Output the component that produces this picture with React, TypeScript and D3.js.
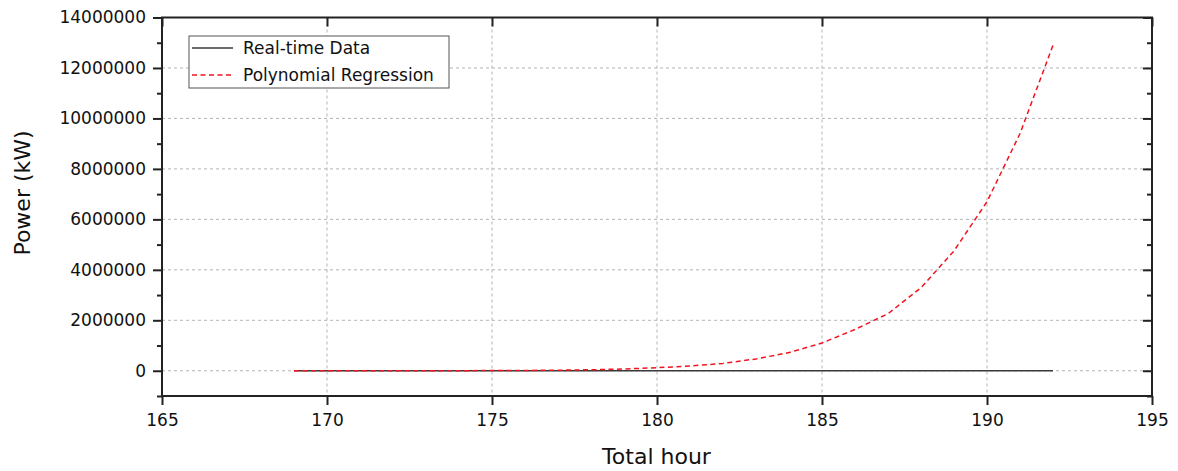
import React, { useEffect, useRef } from "react";
import * as d3 from "d3";

// hours on the x axis
const hours = [169, 170, 171, 172, 173, 174, 175, 176, 177, 178, 179, 180,
  181, 182, 183, 184, 185, 186, 187, 188, 189, 190, 191, 192];

// measured power (kW), hugs zero at this scale
const realTime = [3100, 3400, 2900, 3600, 3300, 3800, 3500, 4100, 3700, 3900, 4300, 4000,
  3600, 4200, 4500, 4100, 3900, 4400, 4700, 4300, 4100, 4600, 4800, 4500];

// polynomial fit (kW)
const polyFit = [0, 0, 0, 0, 2000, 4000, 7000, 12000, 22000, 40000, 70000, 120000,
  190000, 290000, 470000, 720000, 1100000, 1640000, 2260000, 3290000, 4750000, 6700000, 9400000, 12900000];

const xTicks = [165, 170, 175, 180, 185, 190, 195];
const yTicks = [0, 2000000, 4000000, 6000000, 8000000, 10000000, 12000000, 14000000];
const yMinor = [-1000000, 1000000, 3000000, 5000000, 7000000, 9000000, 11000000, 13000000];

const legendLabels = ["Real-time Data", "Polynomial Regression"];

const W = 1178;
const H = 471;
const FONT = "DejaVu Sans, Arial, sans-serif";

export default function App() {
  const svgRef = useRef<SVGSVGElement>(null);

  useEffect(() => {
    const svg = d3.select(svgRef.current);
    svg.selectAll("*").remove();

    const left = 162, right = 1152, top = 17.5, bottom = 396;

    const x = d3.scaleLinear().domain([165, 195]).range([left, right]);
    const y = d3.scaleLinear().domain([-1000000, 14000000]).range([bottom, top]);

    // grid
    const grid = svg.append("g");
    grid.selectAll("line.gx")
      .data(xTicks.slice(1, -1))
      .enter()
      .append("line")
      .attr("x1", d => x(d)).attr("x2", d => x(d))
      .attr("y1", top).attr("y2", bottom)
      .style("stroke", "#b4b4b4")
      .style("stroke-width", 1)
      .style("stroke-dasharray", "3,3");
    grid.selectAll("line.gy")
      .data(yTicks)
      .enter()
      .append("line")
      .attr("x1", left).attr("x2", right)
      .attr("y1", d => y(d)).attr("y2", d => y(d))
      .style("stroke", "#b4b4b4")
      .style("stroke-width", 1)
      .style("stroke-dasharray", "3,3");

    // lines
    const line = d3.line<number>()
      .x((d, i) => x(hours[i]))
      .y(d => y(d));

    svg.append("path")
      .datum(realTime)
      .attr("d", line)
      .style("fill", "none")
      .style("stroke", "#3a3a3a")
      .style("stroke-width", 1.5);

    svg.append("path")
      .datum(polyFit)
      .attr("d", line)
      .style("fill", "none")
      .style("stroke", "#f0141e")
      .style("stroke-width", 1.5)
      .style("stroke-dasharray", "5,3.5");

    // axes
    const styleAxis = (g: any) => {
      g.select(".domain").remove();
      g.selectAll("line").style("stroke", "#222").style("stroke-width", 2);
      g.selectAll("text")
        .style("font-family", FONT)
        .style("font-size", "17px")
        .style("fill", "#111");
    };

    svg.append("g")
      .attr("transform", `translate(${left},0)`)
      .call(d3.axisLeft(y).tickValues(yTicks).tickSize(9).tickPadding(7).tickFormat(d3.format("d")))
      .call(styleAxis);
    svg.append("g")
      .attr("transform", `translate(${left},0)`)
      .call(d3.axisLeft(y).tickValues(yMinor).tickSize(5).tickFormat(() => ""))
      .call(styleAxis);

    svg.append("g")
      .attr("transform", `translate(${right},0)`)
      .call(d3.axisLeft(y).tickValues(yTicks).tickSize(9).tickFormat(() => ""))
      .call(styleAxis);
    svg.append("g")
      .attr("transform", `translate(${right},0)`)
      .call(d3.axisLeft(y).tickValues(yMinor).tickSize(5).tickFormat(() => ""))
      .call(styleAxis);

    svg.append("g")
      .attr("transform", `translate(0,${bottom})`)
      .call(d3.axisBottom(x).tickValues(xTicks).tickSize(9).tickPadding(9).tickFormat(d3.format("d")))
      .call(styleAxis);
    svg.append("g")
      .attr("transform", `translate(0,${top})`)
      .call(d3.axisBottom(x).tickValues(xTicks).tickSize(9).tickFormat(() => ""))
      .call(styleAxis);

    // frame
    svg.append("rect")
      .attr("x", left).attr("y", top)
      .attr("width", right - left).attr("height", bottom - top)
      .style("fill", "none")
      .style("stroke", "#222")
      .style("stroke-width", 2);

    // axis titles
    svg.append("text")
      .attr("x", (left + right) / 2 - 0.5)
      .attr("y", 464)
      .attr("text-anchor", "middle")
      .style("font-family", FONT)
      .style("font-size", "22px")
      .style("fill", "#111")
      .text("Total hour");

    svg.append("text")
      .attr("transform", `translate(30,${193}) rotate(-90)`)
      .attr("text-anchor", "middle")
      .style("font-family", FONT)
      .style("font-size", "22px")
      .style("fill", "#111")
      .text("Power (kW)");

    // legend
    const legend = svg.append("g");
    legend.append("rect")
      .attr("x", 189).attr("y", 36)
      .attr("width", 260).attr("height", 52)
      .style("fill", "#fff")
      .style("stroke", "#555")
      .style("stroke-width", 1);

    const rows = legend.selectAll("g.row")
      .data(legendLabels)
      .enter()
      .append("g")
      .attr("transform", (d, i) => `translate(0, ${48 + i * 27})`);

    rows.append("line")
      .attr("x1", 192).attr("x2", 233)
      .attr("y1", 0).attr("y2", 0)
      .style("stroke", (d, i) => (i === 0 ? "#3a3a3a" : "#f0141e"))
      .style("stroke-width", 1.5)
      .style("stroke-dasharray", (d, i) => (i === 0 ? null : "5,3.5"));

    rows.append("text")
      .attr("x", 243)
      .attr("y", 0)
      .attr("dy", "0.36em")
      .style("font-family", FONT)
      .style("font-size", "17px")
      .style("fill", "#111")
      .text(d => d);
  }, []);

  return (
    <svg
      ref={svgRef}
      width={W}
      height={H}
      style={{ position: "absolute", left: 0, top: 0, background: "#fff" }}
    />
  );
}
